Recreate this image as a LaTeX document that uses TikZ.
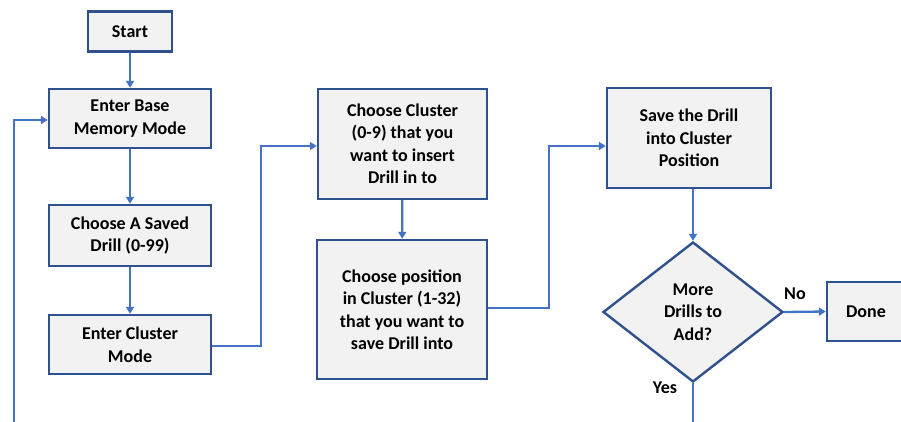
\documentclass[tikz,border=0pt]{standalone}
\usepackage{fontspec}
\setmainfont{Carlito}
\usetikzlibrary{arrows.meta,shapes.geometric}
\definecolor{boxfill}{HTML}{F2F2F2}
\definecolor{boxline}{HTML}{2F528F}
\definecolor{conn}{HTML}{4472C4}
\begin{document}
\begin{tikzpicture}[x=1pt,y=-1pt,
  txt/.style={font=\fontsize{18}{22.5}\selectfont\bfseries},
  stepbox/.style={txt,draw=boxline,line width=2.4pt,fill=boxfill,rectangle,inner sep=0pt,align=center},
  decbox/.style={txt,draw=boxline,line width=2.4pt,fill=boxfill,diamond,aspect=1.286,inner sep=0pt,
    minimum width=180pt,minimum height=140pt,align=center},
  lbl/.style={txt,inner sep=0pt},
  line/.style={draw=conn,line width=2.3pt},
  arr/.style={line,-{Triangle[length=7pt,width=8pt]}}]
\useasboundingbox (0,0) rectangle (901,422);
\fill[white] (0,0) rectangle (901,422);

\node[stepbox,minimum width=84pt,minimum height=40pt] (start) at (130,31.5) {Start};
\node[stepbox,minimum width=162pt,minimum height=59pt] (base) at (130,118.5) {Enter Base\\Memory Mode};
\node[stepbox,minimum width=162pt,minimum height=61pt] (saved) at (130,235.5) {Choose A Saved\\Drill (0-99)};
\node[stepbox,minimum width=162pt,minimum height=59pt] (cmode) at (130,344.5) {Enter Cluster\\Mode};
\node[stepbox,minimum width=169pt,minimum height=110pt] (cclust) at (402.5,144) {Choose Cluster\\(0-9) that you\\want to insert\\Drill in to};
\node[stepbox,minimum width=170pt,minimum height=139pt] (pos) at (402,309.5) {Choose position\\in Cluster (1-32)\\that you want to\\save Drill into};
\node[stepbox,minimum width=164pt,minimum height=100pt] (save) at (689,138) {Save the Drill\\into Cluster\\Position};
\node[decbox] (dec) at (693,312) {More\\Drills to\\Add?};
\node[stepbox,minimum width=78pt,minimum height=59pt] (done) at (866,311.5) {Done};
\node[lbl] (no) at (795,294) {No};
\node[lbl] (yes) at (665,388) {Yes};

\coordinate (loopbot) at (14,424);
\coordinate (yesend) at (693,424);

\draw[arr] (start) -- (base);
\draw[arr] (base) -- (saved);
\draw[arr] (saved) -- (cmode);
\draw[arr] (loopbot) |- ([yshift=-1.5pt]base.west);
\draw[arr] ([yshift=-1.5pt]cmode.east) -- ++(49,0) |- ([yshift=-2pt]cclust.west);
\draw[arr] (cclust) -- (pos);
\draw[arr] ([yshift=1.5pt]pos.east) -- ++(61,0) |- ([yshift=-8pt]save.west);
\draw[arr] ([xshift=4pt]save.south) -- (dec.north);
\draw[arr] (dec.east) -- (done.west);
\draw[line] (dec.south) -- (yesend);
\end{tikzpicture}
\end{document}
